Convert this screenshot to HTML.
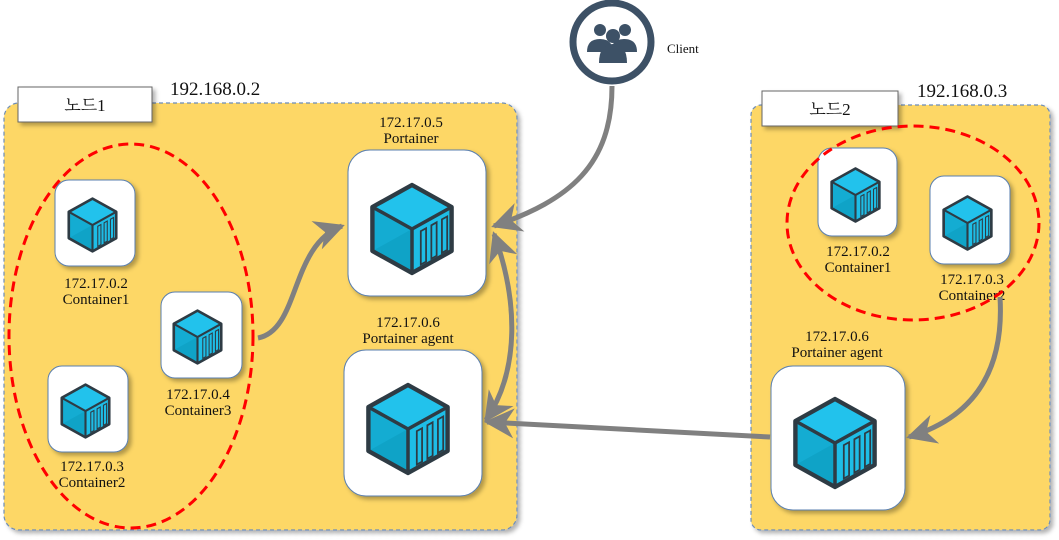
<!DOCTYPE html>
<html><head><meta charset="utf-8"><style>
html,body{margin:0;padding:0;background:#fff;width:1059px;height:540px;overflow:hidden}
</style></head><body>
<svg width="1059" height="540" viewBox="0 0 1059 540" xmlns="http://www.w3.org/2000/svg" style="font-family:'Liberation Serif','Noto Serif CJK SC',serif">
<defs>
<filter id="sh" x="-20%" y="-20%" width="150%" height="150%"><feDropShadow dx="3" dy="3" stdDeviation="2" flood-color="#000" flood-opacity="0.3"/></filter>
<symbol id="cube" viewBox="0 0 100 110">
<polygon points="50,5 95,30 50,55 5,30" fill="#22C2EC"/>
<polygon points="5,30 50,55 50,105 5,80" fill="#0FA3C7"/>
<polygon points="5,30 50,55 5,80" fill="#14ACD2"/>
<polygon points="50,55 95,30 95,80 50,105" fill="#1EBDE6"/>
<polygon points="50,5 95,30 95,80 50,105 5,80 5,30" fill="none" stroke="#2E3B44" stroke-width="5" stroke-linejoin="round"/>
<polyline points="5,30 50,55 95,30" fill="none" stroke="#2E3B44" stroke-width="4"/>
<line x1="50" y1="55" x2="50" y2="105" stroke="#2E3B44" stroke-width="4"/>
<g fill="none" stroke="#2E3B44" stroke-width="2">
<polygon points="60,57.4 66,54.1 66,92.1 60,95.4"/>
<polygon points="72,50.8 78,47.4 78,85.4 72,88.8"/>
<polygon points="84,44.1 90,40.8 90,78.8 84,82.1"/>
</g>
</symbol>
<marker id="ar" viewBox="0 0 10 10" refX="9" refY="5" markerWidth="6" markerHeight="6" orient="auto-start-reverse">
<path d="M0,0 L10,5 L0,10 L3,5 Z" fill="#808080"/>
</marker>
</defs>

<!-- Node1 -->
<rect x="4" y="103" width="513" height="427" rx="15" fill="#FDD766" stroke="#6D8DB8" stroke-width="1.2" stroke-dasharray="4,3" filter="url(#sh)"/>
<rect x="18" y="87" width="134" height="35" fill="#fff" stroke="#666" stroke-width="1" filter="url(#sh)"/>
<text x="85" y="111" font-size="17" text-anchor="middle" fill="#111">노드1</text>
<text x="170" y="95" font-size="19" fill="#111">192.168.0.2</text>

<!-- Node2 -->
<rect x="751" y="105" width="299" height="425" rx="10" fill="#FDD766" stroke="#6D8DB8" stroke-width="1.2" stroke-dasharray="4,3" filter="url(#sh)"/>
<rect x="762" y="91" width="136" height="35" fill="#fff" stroke="#666" stroke-width="1" filter="url(#sh)"/>
<text x="830" y="115" font-size="17" text-anchor="middle" fill="#111">노드2</text>
<text x="917" y="97" font-size="19" fill="#111">192.168.0.3</text>

<g filter="url(#sh)" fill="#fff" stroke="#5A7FAF" stroke-width="1">
<rect x="55" y="180" width="80" height="86" rx="14"/>
<rect x="161" y="292" width="81" height="86" rx="14"/>
<rect x="48" y="366" width="80" height="86" rx="14"/>
<rect x="348" y="150" width="138" height="146" rx="22"/>
<rect x="344" y="350" width="138" height="146" rx="22"/>
<rect x="818" y="148" width="79" height="88" rx="14"/>
<rect x="930" y="176" width="80" height="88" rx="14"/>
<rect x="771" y="366" width="134" height="144" rx="22"/>
</g>
<use href="#cube" x="66" y="196" width="53" height="58"/>
<use href="#cube" x="171" y="308" width="53" height="58"/>
<use href="#cube" x="59" y="382" width="53" height="58"/>
<use href="#cube" x="368" y="179" width="88" height="100"/>
<use href="#cube" x="364" y="379" width="88" height="100"/>
<use href="#cube" x="829" y="165" width="53" height="60"/>
<use href="#cube" x="941" y="193" width="53" height="60"/>
<use href="#cube" x="791" y="393" width="88" height="100"/>

<g font-size="15" text-anchor="middle" fill="#111">
<text x="96" y="288">172.17.0.2</text><text x="96" y="304">Container1</text>
<text x="198" y="399">172.17.0.4</text><text x="198" y="415">Container3</text>
<text x="92" y="471">172.17.0.3</text><text x="92" y="487">Container2</text>
<text x="411" y="127">172.17.0.5</text><text x="411" y="143">Portainer</text>
<text x="408" y="327">172.17.0.6</text><text x="408" y="343">Portainer agent</text>
<text x="858" y="256">172.17.0.2</text><text x="858" y="272">Container1</text>
<text x="972" y="284">172.17.0.3</text><text x="972" y="300">Container2</text>
<text x="837" y="341">172.17.0.6</text><text x="837" y="357">Portainer agent</text>
</g>

<ellipse cx="131" cy="336" rx="122" ry="192" fill="none" stroke="#F00" stroke-width="3" stroke-dasharray="10,6"/>
<ellipse cx="913" cy="223" rx="126" ry="97" fill="none" stroke="#F00" stroke-width="3" stroke-dasharray="10,6"/>

<!-- Client -->
<circle cx="612" cy="42" r="39" fill="#fff" stroke="#3D5166" stroke-width="7"/>
<g fill="#3D5166">
<circle cx="600" cy="30" r="6"/><circle cx="625" cy="30" r="6"/>
<path d="M587,52 q0,-13 13,-13 q8,0 11,5 l-4,8 z"/><path d="M637,52 q0,-13 -13,-13 q-8,0 -11,5 l4,8 z"/>
<circle cx="613" cy="36" r="7"/>
<path d="M599,63 q0,-19 14,-19 q14,0 14,19 z"/>
</g>
<text x="667" y="53" font-size="13" fill="#111">Client</text>

<g fill="none" stroke="#808080" stroke-width="5">
<path d="M612,86 C612,165 570,200 494,226" marker-end="url(#ar)"/>
<path d="M258,338 C300,330 290,245 342,226" marker-end="url(#ar)"/>
<path d="M494,234 C518,300 520,370 486,420" marker-start="url(#ar)" marker-end="url(#ar)"/>
<path d="M770,437 L487,422" marker-end="url(#ar)"/>
<path d="M1000,297 C1005,380 965,420 909,437" marker-end="url(#ar)"/>
</g>
</svg>
</body></html>
